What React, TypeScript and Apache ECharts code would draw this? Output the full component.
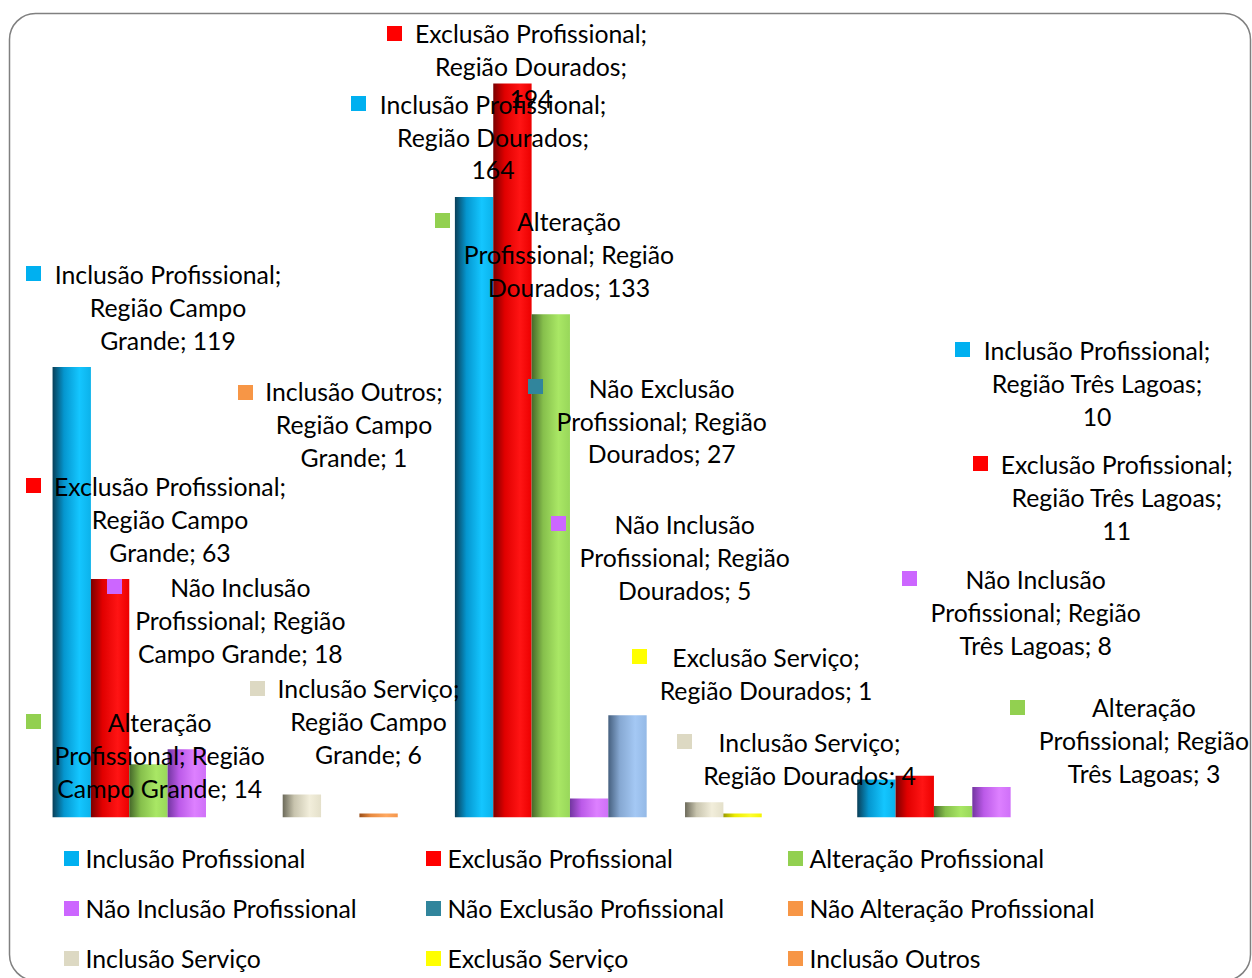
import React, { useEffect, useRef } from 'react';
import * as echarts from 'echarts';

// ---------- data ----------
const categories = ['Região Campo Grande', 'Região Dourados', 'Região Três Lagoas'];

const seriesNames = [
  'Inclusão Profissional',
  'Exclusão Profissional',
  'Alteração Profissional',
  'Não Inclusão Profissional',
  'Não Exclusão Profissional',
  'Não Alteração Profissional',
  'Inclusão Serviço',
  'Exclusão Serviço',
  'Inclusão Outros',
];

const inclusaoProfissional = [119, 164, 10];
const exclusaoProfissional = [63, 194, 11];
const alteracaoProfissional = [14, 133, 3];
const naoInclusaoProfissional = [18, 5, 8];
const naoExclusaoProfissional = [0, 27, 0];
const naoAlteracaoProfissional = [0, 0, 0];
const inclusaoServico = [6, 4, 0];
const exclusaoServico = [0, 1, 0];
const inclusaoOutros = [1, 0, 0];

const seriesValues = [
  inclusaoProfissional,
  exclusaoProfissional,
  alteracaoProfissional,
  naoInclusaoProfissional,
  naoExclusaoProfissional,
  naoAlteracaoProfissional,
  inclusaoServico,
  exclusaoServico,
  inclusaoOutros,
];

const yTicks = [0, 20, 40, 60, 80, 100, 120, 140, 160, 180, 200];

// ---------- styles ----------
const keyColors = ['#00B0F0', '#FF0000', '#92D050', '#CC66FF', '#31859C', '#F79646', '#DDD9C3', '#FFFF00', '#F79646'];

// horizontal "cylinder" shading per series: [left, mid, highlight, right]
const barShades = [
  ['#0a3f58', '#0596cf', '#14c6ff', '#0cb2ea'],
  ['#7a0000', '#e00000', '#ff1414', '#ec0000'],
  ['#46682a', '#86bf4c', '#a9e765', '#98d75a'],
  ['#7236a0', '#bb5ae8', '#dd80ff', '#cf70f8'],
  ['#46607f', '#86a8d2', '#a4c8f4', '#94b9e6'],
  ['#9a4e18', '#e88a40', '#ffa860', '#f4964c'],
  ['#6c6a5a', '#c8c4ae', '#f2eedb', '#e4e0ca'],
  ['#9a9a00', '#ecec00', '#ffff30', '#f4f400'],
  ['#9a4e18', '#e88a40', '#ffa860', '#f4964c'],
];

// data labels: series index, category index, words per line, key box, text centre x, first line centre y
const labelLayout = [
  { s: 1, c: 1, words: [2, 2, 1], key: [387, 26], cx: 531, y1: 33.5 },
  { s: 0, c: 1, words: [2, 2, 1], key: [351, 96], cx: 493, y1: 104.5 },
  { s: 2, c: 1, words: [1, 2, 2], key: [435, 213], cx: 569, y1: 222 },
  { s: 0, c: 0, words: [2, 2, 2], key: [26, 266], cx: 168, y1: 275 },
  { s: 8, c: 0, words: [2, 2, 2], key: [238, 385], cx: 354, y1: 392 },
  { s: 1, c: 0, words: [2, 2, 2], key: [26, 478], cx: 170, y1: 487 },
  { s: 3, c: 0, words: [2, 2, 3], key: [107, 579], cx: 240.3, y1: 588 },
  { s: 2, c: 0, words: [1, 2, 3], key: [26, 714], cx: 159.7, y1: 723 },
  { s: 6, c: 0, words: [2, 2, 2], key: [250, 681], cx: 368.5, y1: 689 },
  { s: 4, c: 1, words: [2, 2, 2], key: [528, 379], cx: 661.7, y1: 388.5 },
  { s: 3, c: 1, words: [2, 2, 2], key: [551, 516], cx: 684.7, y1: 525 },
  { s: 7, c: 1, words: [2, 3], key: [632, 649], cx: 766, y1: 658 },
  { s: 6, c: 1, words: [2, 3], key: [677, 734], cx: 809.5, y1: 743 },
  { s: 0, c: 2, words: [2, 3, 1], key: [955, 342], cx: 1097, y1: 351 },
  { s: 1, c: 2, words: [2, 3, 1], key: [973, 456], cx: 1116.7, y1: 465 },
  { s: 3, c: 2, words: [2, 2, 3], key: [902, 571], cx: 1035.7, y1: 580 },
  { s: 2, c: 2, words: [1, 2, 3], key: [1010, 700], cx: 1144, y1: 708 },
];

const legendColumnsX = [64, 426, 788];
const FONT = 'Lato';

function measureFontSize(): number {
  try {
    const ctx = document.createElement('canvas').getContext('2d');
    if (!ctx) return 24.5;
    ctx.font = `100px ${FONT}`;
    const w = ctx.measureText('Inclusão Profissional').width;
    if (!w) return 24.5;
    const size = (100 * 220) / w;
    return Math.max(20, Math.min(28, size));
  } catch (e) {
    return 24.5;
  }
}

function buildLabelText(s: number, c: number, words: number[]): string {
  const full = `${seriesNames[s]}; ${categories[c]}; ${seriesValues[s][c]}`;
  const parts = full.split(' ');
  const lines: string[] = [];
  let i = 0;
  for (const n of words) {
    lines.push(parts.slice(i, i + n).join(' '));
    i += n;
  }
  if (i < parts.length) lines[lines.length - 1] += ' ' + parts.slice(i).join(' ');
  return lines.join('\n');
}

export default function App() {
  const ref = useRef<HTMLDivElement>(null);

  useEffect(() => {
    document.body.style.margin = '0';
    document.body.style.overflow = 'hidden';
    if (!ref.current) return;
    const chart = echarts.init(ref.current, undefined, { renderer: 'svg' });
    const fontSize = measureFontSize();
    const lineH = 32.7;

    const series = seriesNames.map((name, i) => ({
      type: 'bar' as const,
      name,
      data: seriesValues[i],
      barGap: '0%',
      barCategoryGap: '14.2%',
      itemStyle: {
        color: {
          type: 'linear',
          x: 0,
          y: 0,
          x2: 1,
          y2: 0,
          colorStops: [
            { offset: 0, color: barShades[i][0] },
            { offset: 0.3, color: barShades[i][1] },
            { offset: 0.7, color: barShades[i][2] },
            { offset: 1, color: barShades[i][3] },
          ],
        },
      },
      emphasis: { disabled: true },
    }));

    const legends = legendColumnsX.map((x, col) => ({
      orient: 'vertical' as const,
      left: x,
      top: 843.5,
      padding: 0,
      itemWidth: 15,
      itemHeight: 15,
      itemGap: 20,
      icon: 'rect',
      selectedMode: false,
      textStyle: {
        fontFamily: FONT,
        fontSize,
        color: '#000',
        lineHeight: 30,
        padding: [0, 0, 0, 1.5],
      },
      data: [0, 1, 2].map((row) => {
        const idx = row * 3 + col;
        return { name: seriesNames[idx], itemStyle: { color: keyColors[idx] } };
      }),
    }));

    const graphics: any[] = [
      {
        type: 'rect',
        z: -10,
        silent: true,
        shape: { x: 9.5, y: 13.5, width: 1241, height: 967, r: 26 },
        style: { fill: 'none', stroke: '#808080', lineWidth: 1.5 },
      },
    ];
    labelLayout.forEach((l) => {
      graphics.push({
        type: 'rect',
        z: 100,
        silent: true,
        shape: { x: l.key[0], y: l.key[1], width: 15, height: 15 },
        style: { fill: keyColors[l.s] },
      });
      graphics.push({
        type: 'text',
        z: 100,
        silent: true,
        x: l.cx,
        y: l.y1 - lineH / 2,
        style: {
          text: buildLabelText(l.s, l.c, l.words),
          fontFamily: FONT,
          fontSize,
          lineHeight: lineH,
          fill: '#000',
          align: 'center',
          verticalAlign: 'top',
          textAlign: 'center',
          textVerticalAlign: 'top',
        },
      });
    });

    chart.setOption({
      animation: false,
      backgroundColor: '#ffffff',
      grid: { left: 24, right: 21, top: 60.7, bottom: 160.7, containLabel: false },
      xAxis: {
        type: 'category',
        data: categories,
        axisLabel: { show: false },
        axisLine: { show: false },
        axisTick: { show: false },
        splitLine: { show: false },
      },
      yAxis: {
        type: 'value',
        min: yTicks[0],
        max: yTicks[yTicks.length - 1],
        interval: yTicks[1] - yTicks[0],
        axisLabel: { show: false },
        axisLine: { show: false },
        axisTick: { show: false },
        splitLine: {
          show: true,
          lineStyle: {
            color: '#8a8a8a',
            width: 2,
            shadowColor: 'rgba(0,0,0,0.25)',
            shadowBlur: 2,
            shadowOffsetY: 1,
          },
        },
      },
      legend: legends,
      tooltip: { show: false },
      series,
      graphic: { elements: graphics },
    });

    return () => {
      chart.dispose();
    };
  }, []);

  return <div ref={ref} style={{ width: 1252, height: 978, background: '#fff' }} />;
}
